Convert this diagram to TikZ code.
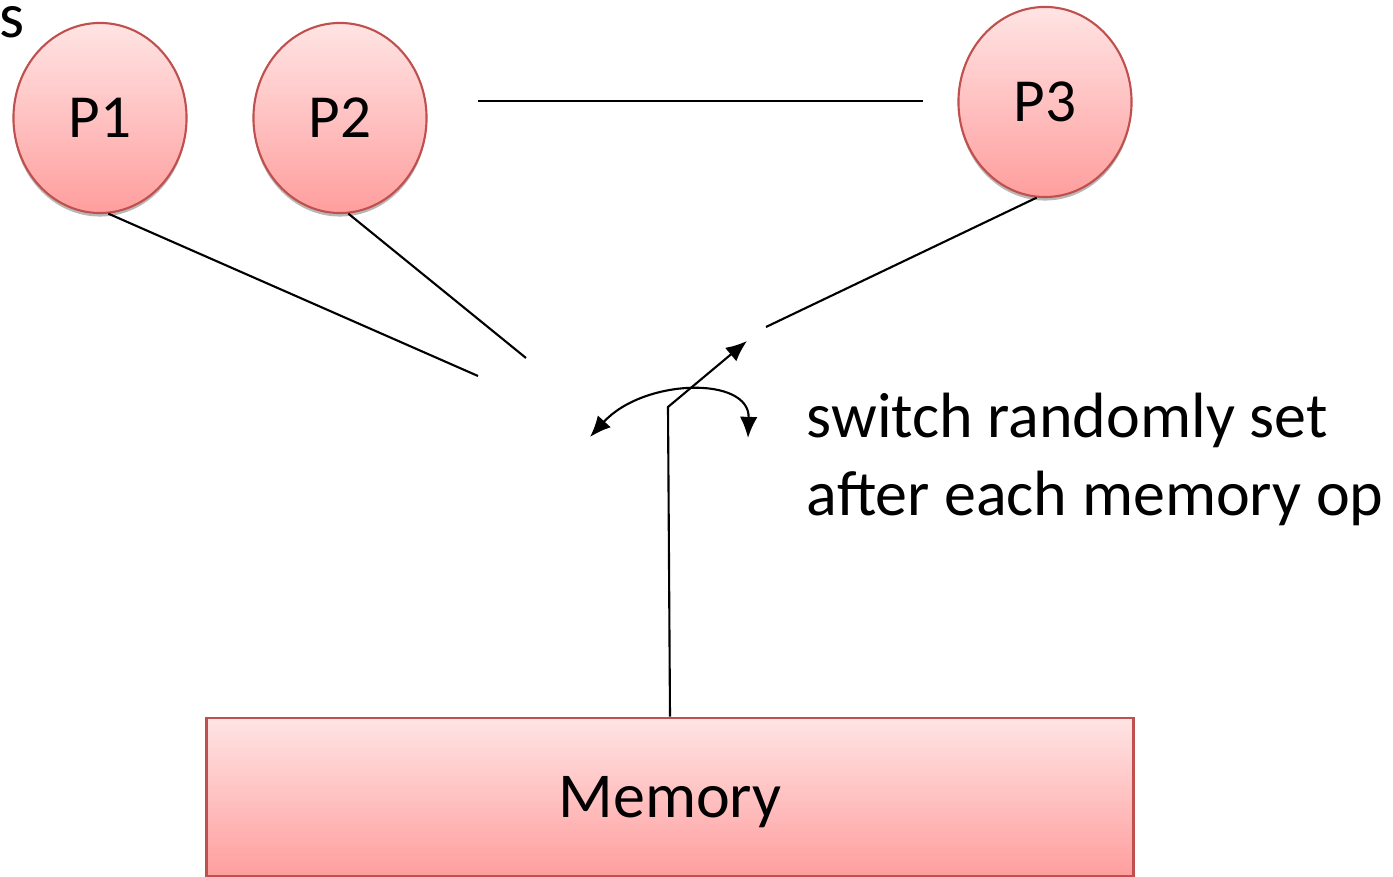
\documentclass[tikz,border=0pt]{standalone}
\usepackage{fontspec}
\setmainfont{Carlito}
\usetikzlibrary{shapes.geometric,shadows,arrows.meta}
\definecolor{procedge}{RGB}{192,80,77}
\definecolor{proctop}{RGB}{255,228,228}
\definecolor{procbottom}{RGB}{255,158,158}

\begin{document}
\begin{tikzpicture}[x=0.01cm, y=-0.01cm]
            \tikzstyle{every node} = [font=\fontsize{18.2}{22.2}\selectfont]
            \tikzstyle{proc} = [ellipse, draw=procedge, semithick, top color=proctop, bottom color=procbottom,
                minimum width=1.73cm, minimum height=1.9cm, inner sep=0pt,
                font=\fontsize{17.4}{20}\selectfont,
                drop shadow={shadow xshift=0pt, shadow yshift=-1pt, fill=gray!70, opacity=0.8}]
            \tikzstyle{wire} = [semithick]
            \useasboundingbox (0, 0) rectangle (1393, 877);
            \node[anchor=base west, inner sep=0pt] (cut) at (-1, 38) {s};
            \node[proc] (P1) at (100, 118) {P1};
            \node[proc] (P2) at (340, 118) {P2};
            \node[proc] (P3) at (1045, 102) {P3};
            \node[draw=procedge, thick, top color=proctop, bottom color=procbottom, text depth=0pt,
                minimum width=9.26cm, minimum height=1.58cm] (mem) at (670, 797) {Memory};
            % switch ends
            \coordinate (end1) at (478, 376);
            \coordinate (end2) at (526, 358);
            \coordinate (end3) at (766, 327);
            \coordinate (pivot) at (668, 407);
            \coordinate (tip) at (747, 341);
            \coordinate (busL) at (478, 101);
            \coordinate (busR) at (923, 101);
            \coordinate (swL) at (590, 437);
            \coordinate (swR) at (748, 438);
            \draw[wire] (P1.-85) -- (end1);
            \draw[wire] (P2.-85) -- (end2);
            \draw[wire] (P3.-95) -- (end3);
            \draw[wire] (busL) -- (busR);
            \draw[wire, -{Latex[length=6pt,width=5pt]}] (mem.north) -- (pivot) -- (tip);
            \draw[wire, {Latex[length=6pt,width=5pt]}-{Latex[length=6pt,width=5pt]}]
                (swL) .. controls (644, 378) and (750, 376) .. (swR);
            \node[anchor=north west, align=left, inner sep=0pt] (note) at (806, 392)
                {switch randomly set\\after each memory op};
        \end{tikzpicture}
\end{document}
